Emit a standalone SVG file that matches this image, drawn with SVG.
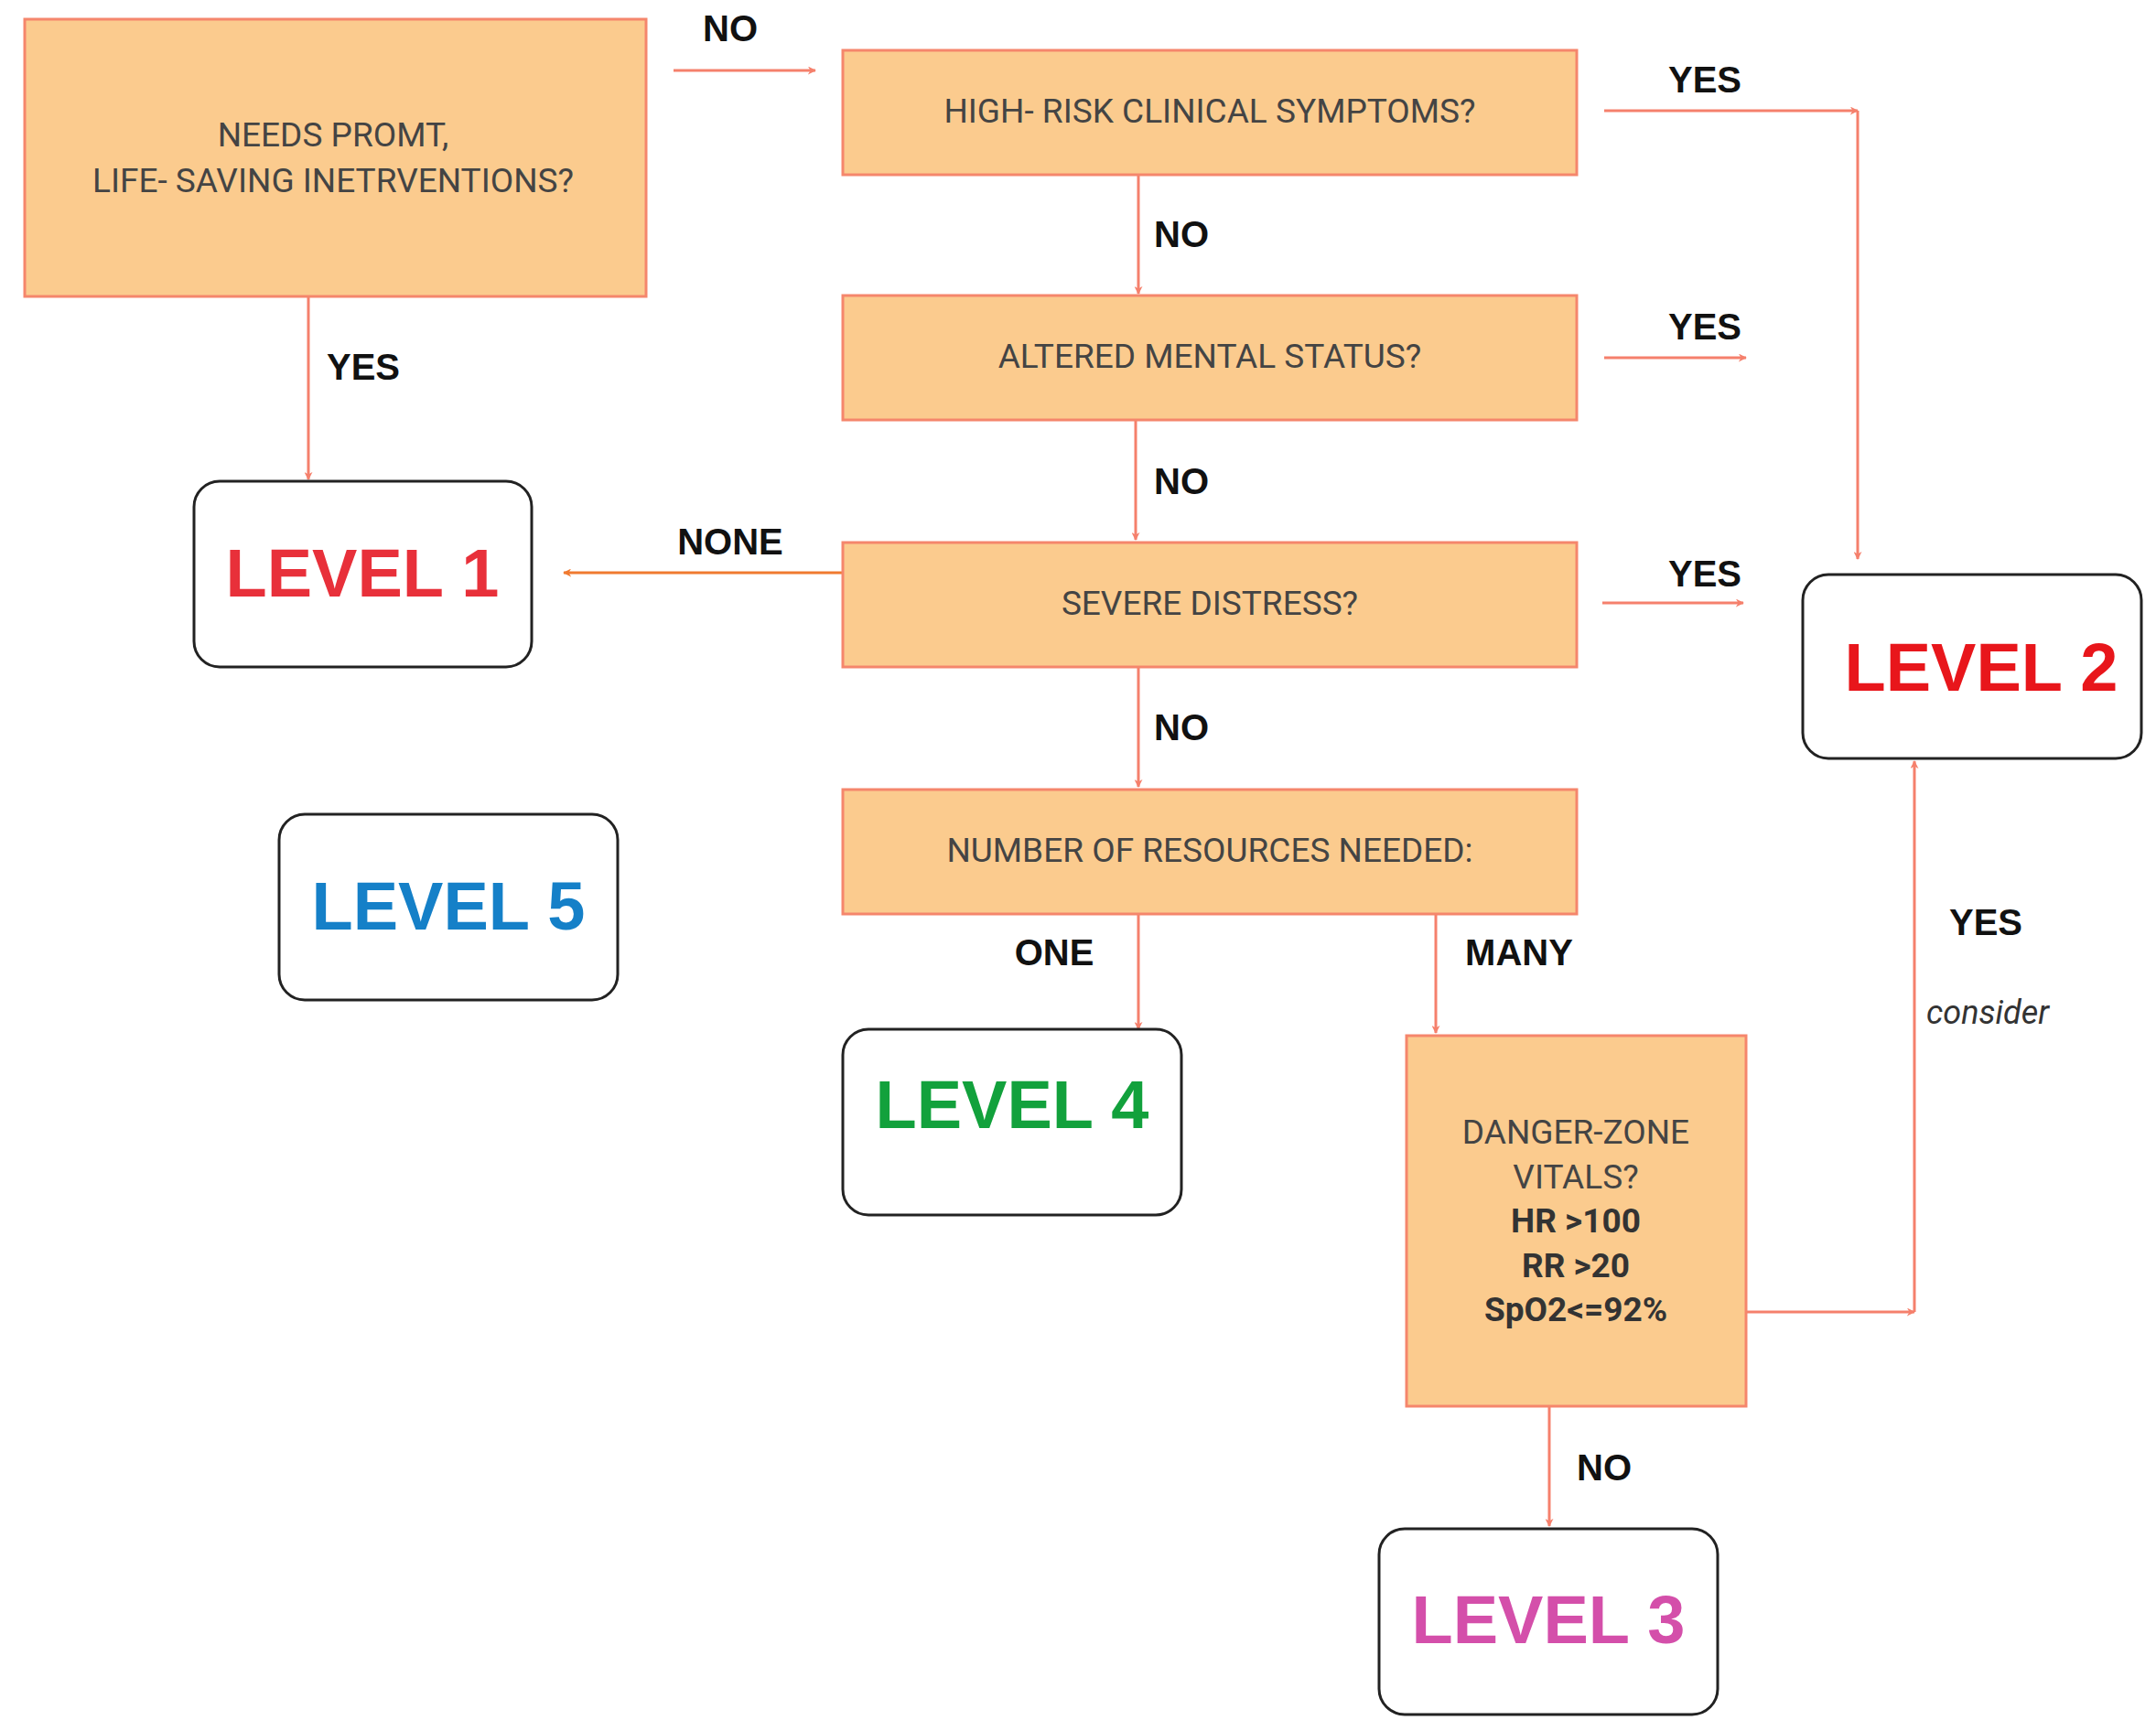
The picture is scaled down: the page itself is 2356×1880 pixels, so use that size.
<svg xmlns="http://www.w3.org/2000/svg" width="2356" height="1880" viewBox="0 0 2356 1880">
<style>
.q{fill:#fbcb8e;stroke:#f5866c;stroke-width:3}
.lv{fill:#fff;stroke:#222;stroke-width:3}
.qt{font-family:"Roboto","Liberation Sans",sans-serif;font-size:37px;fill:#444;text-anchor:middle}
.qb{font-family:"Roboto","Liberation Sans",sans-serif;font-size:37px;fill:#333;text-anchor:middle;font-weight:bold}
.lt{font-family:"Liberation Sans",Arial,sans-serif;font-size:74px;font-weight:bold;text-anchor:middle}
.cl{font-family:"Liberation Sans",Arial,sans-serif;font-size:40px;font-weight:bold;fill:#111;text-anchor:middle}
.c{stroke:#f5806c;stroke-width:3;fill:none}
</style>
<defs>
<marker id="a" viewBox="0 0 10 10" refX="9" refY="5" markerWidth="9" markerHeight="9" markerUnits="userSpaceOnUse" orient="auto"><path d="M0,0 L10,5 L0,10 L3,5 Z" fill="#f5806c"/></marker>
<marker id="ao" viewBox="0 0 10 10" refX="9" refY="5" markerWidth="9" markerHeight="9" markerUnits="userSpaceOnUse" orient="auto"><path d="M0,0 L10,5 L0,10 L3,5 Z" fill="#f07a30"/></marker>
</defs>
<rect width="2356" height="1880" fill="#fff"/>
<g id="connectors">
<line class="c" x1="736" y1="77" x2="891" y2="77" marker-end="url(#a)"/>
<line class="c" x1="1753" y1="121" x2="2030" y2="121" marker-end="url(#a)"/>
<line class="c" x1="2030" y1="121" x2="2030" y2="611" marker-end="url(#a)"/>
<line class="c" x1="1244" y1="191" x2="1244" y2="321" marker-end="url(#a)"/>
<line class="c" x1="1753" y1="391" x2="1908" y2="391" marker-end="url(#a)"/>
<line class="c" x1="1241" y1="459" x2="1241" y2="590" marker-end="url(#a)"/>
<line x1="920" y1="626" x2="616" y2="626" stroke="#f07a30" stroke-width="3" marker-end="url(#ao)"/>
<line class="c" x1="1751" y1="659" x2="1905" y2="659" marker-end="url(#a)"/>
<line class="c" x1="1244" y1="729" x2="1244" y2="860" marker-end="url(#a)"/>
<line class="c" x1="1244" y1="999" x2="1244" y2="1125" marker-end="url(#a)"/>
<line class="c" x1="1569" y1="999" x2="1569" y2="1129" marker-end="url(#a)"/>
<line class="c" x1="1908" y1="1434" x2="2092" y2="1434" marker-end="url(#a)"/>
<line class="c" x1="2092" y1="1434" x2="2092" y2="832" marker-end="url(#a)"/>
<line class="c" x1="1693" y1="1537" x2="1693" y2="1668" marker-end="url(#a)"/>
<line class="c" x1="337" y1="324" x2="337" y2="524" marker-end="url(#a)"/>
<text class="cl" x="798" y="45">NO</text>
<text class="cl" x="1863" y="101">YES</text>
<text class="cl" x="1291" y="270">NO</text>
<text class="cl" x="1863" y="371">YES</text>
<text class="cl" x="1291" y="540">NO</text>
<text class="cl" x="798" y="606">NONE</text>
<text class="cl" x="1863" y="641">YES</text>
<text class="cl" x="1291" y="809">NO</text>
<text class="cl" x="1152" y="1055">ONE</text>
<text class="cl" x="1660" y="1055">MANY</text>
<text class="cl" x="2170" y="1022">YES</text>
<text x="2172" y="1119" font-family="Roboto,'Liberation Sans',sans-serif" font-size="36" font-style="italic" fill="#333" text-anchor="middle">consider</text>
<text class="cl" x="1753" y="1618">NO</text>
<text class="cl" x="397" y="415">YES</text>
</g>
<g id="q1"><rect class="q" x="27" y="21" width="679" height="303"/>
<text class="qt" x="364" y="160">NEEDS PROMT,</text>
<text class="qt" x="364" y="210">LIFE- SAVING INETRVENTIONS?</text></g>
<g id="q2"><rect class="q" x="921" y="55" width="802" height="136"/><text class="qt" x="1322" y="134">HIGH- RISK CLINICAL SYMPTOMS?</text></g>
<g id="q3"><rect class="q" x="921" y="323" width="802" height="136"/><text class="qt" x="1322" y="402">ALTERED MENTAL STATUS?</text></g>
<g id="q4"><rect class="q" x="921" y="593" width="802" height="136"/><text class="qt" x="1322" y="672">SEVERE DISTRESS?</text></g>
<g id="q5"><rect class="q" x="921" y="863" width="802" height="136"/><text class="qt" x="1322" y="942">NUMBER OF RESOURCES NEEDED:</text></g>
<g id="q6"><rect class="q" x="1537" y="1132" width="371" height="405"/>
<text class="qt" x="1722" y="1250">DANGER-ZONE</text>
<text class="qt" x="1722" y="1299">VITALS?</text>
<text class="qb" x="1722" y="1347">HR &gt;100</text>
<text class="qb" x="1722" y="1396">RR &gt;20</text>
<text class="qb" x="1722" y="1444">SpO2&lt;=92%</text></g>
<g id="l1"><rect class="lv" x="212" y="526" width="369" height="203" rx="28"/><text class="lt" x="396" y="652" fill="#e8303a">LEVEL 1</text></g>
<g id="l2"><rect class="lv" x="1970" y="628" width="370" height="201" rx="28"/><text class="lt" x="2165" y="755" fill="#e8161b" font-size="80">LEVEL 2</text></g>
<g id="l5"><rect class="lv" x="305" y="890" width="370" height="203" rx="28"/><text class="lt" x="490" y="1016" fill="#1580c8">LEVEL 5</text></g>
<g id="l4"><rect class="lv" x="921" y="1125" width="370" height="203" rx="28"/><text class="lt" x="1106" y="1233" fill="#12a13c">LEVEL 4</text></g>
<g id="l3"><rect class="lv" x="1507" y="1671" width="370" height="203" rx="28"/><text class="lt" x="1692" y="1796" fill="#d44faa">LEVEL 3</text></g>
</svg>
